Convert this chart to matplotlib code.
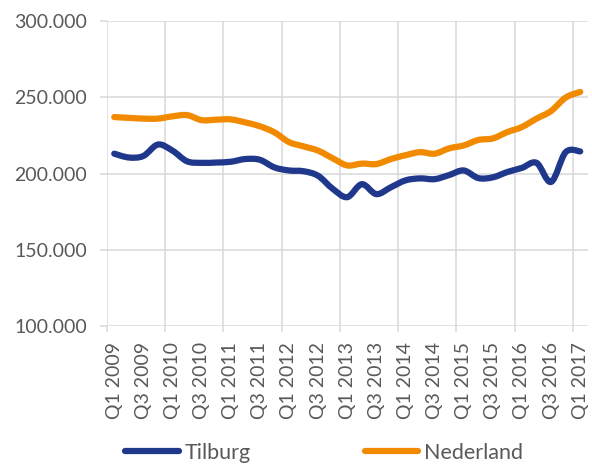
import matplotlib
matplotlib.use("Agg")
import matplotlib.pyplot as plt
import numpy as np
from matplotlib.path import Path
from matplotlib.patches import PathPatch
from matplotlib.lines import Line2D

quarters = [f"Q{q} {y}" for y in range(2009, 2017) for q in (1, 2, 3, 4)] + ["Q1 2017"]

tilburg = [213, 210.5, 211.5, 219, 215, 208, 207, 207.2, 207.7, 209.5, 209,
           204, 202, 201.5, 198.5, 190, 184.5, 193, 186.5, 191, 195.5, 196.8,
           196.3, 199, 202, 197, 197.5, 201, 203.7, 207, 194.5, 214, 214.5]
nederland = [237, 236.5, 236, 236, 237.5, 238.3, 235, 235.3, 235.5, 233.5, 231,
             227, 220.6, 217.8, 215, 210, 205.3, 206.5, 206.2, 209.5, 212, 214,
             213, 216.5, 218.4, 222, 223, 227.2, 230.5, 236, 241, 249.8, 253.5]
tilburg = [v * 1000 for v in tilburg]
nederland = [v * 1000 for v in nederland]

y_ticks = [100000, 150000, 200000, 250000, 300000]
y_labels = ["100.000", "150.000", "200.000", "250.000", "300.000"]

BLUE = "#20388C"
ORANGE = "#F28A00"
GRID = "#D9D9D9"
TEXT = "#595959"

plt.rcParams['font.family'] = ['Lato', 'DejaVu Sans']


def smooth_path(x, y, t=1 / 6):
    # excel-style smoothed line: cubic bezier through every point
    x = np.asarray(x, float)
    y = np.asarray(y, float)
    n = len(x)
    verts = [(x[0], y[0])]
    codes = [Path.MOVETO]
    for i in range(n - 1):
        p0 = i - 1 if i > 0 else i
        p3 = i + 2 if i + 2 < n else i + 1
        c1 = (x[i] + (x[i + 1] - x[p0]) * t, y[i] + (y[i + 1] - y[p0]) * t)
        c2 = (x[i + 1] - (x[p3] - x[i]) * t, y[i + 1] - (y[p3] - y[i]) * t)
        verts += [c1, c2, (x[i + 1], y[i + 1])]
        codes += [Path.CURVE4] * 3
    return Path(verts, codes)


fig = plt.figure(figsize=(5.92, 4.66), dpi=100)
ax = fig.add_axes([0.1807, 0.3004, 0.8117, 0.6545])

x = np.arange(len(quarters))
for vals, col in [(tilburg, BLUE), (nederland, ORANGE)]:
    ax.add_patch(PathPatch(smooth_path(x, vals), fill=False, edgecolor=col,
                           lw=4.5, capstyle='round', joinstyle='round', zorder=3))

ax.set_xlim(-0.5, len(quarters) - 0.5)
ax.set_ylim(100000, 300000)

ax.set_yticks(y_ticks)
ax.set_yticklabels(y_labels)
ax.set_xticks(np.arange(-0.5, len(quarters), 4))
ax.set_xticklabels([])
ax.set_xticks(x[::2], minor=True)
ax.set_xticklabels(quarters[::2], minor=True, rotation=90, va='top', ha='center')

ax.tick_params(axis='y', length=5, width=1.1, color=GRID, pad=9.5,
               labelsize=14, labelcolor=TEXT)
ax.tick_params(axis='x', which='major', length=4.5, width=1.1, color=GRID)
ax.tick_params(axis='x', which='minor', length=0, pad=11.5,
               labelsize=14, labelcolor=TEXT)

ax.grid(True, which='major', color=GRID, lw=1.1, zorder=0)
ax.set_axisbelow(True)
for s in ax.spines.values():
    s.set_visible(False)

handles = [Line2D([], [], color=BLUE, lw=4.5, solid_capstyle='round'),
           Line2D([], [], color=ORANGE, lw=4.5, solid_capstyle='round')]
leg = fig.legend(handles, ["Tilburg", "Nederland"], loc='center',
                 bbox_to_anchor=(324 / 592, 1 - 453 / 466), ncol=2,
                 frameon=False, fontsize=15.5, handlelength=2.5,
                 handletextpad=0.25, columnspacing=5.3, labelcolor=TEXT)

fig.savefig("out.png", dpi=100)
